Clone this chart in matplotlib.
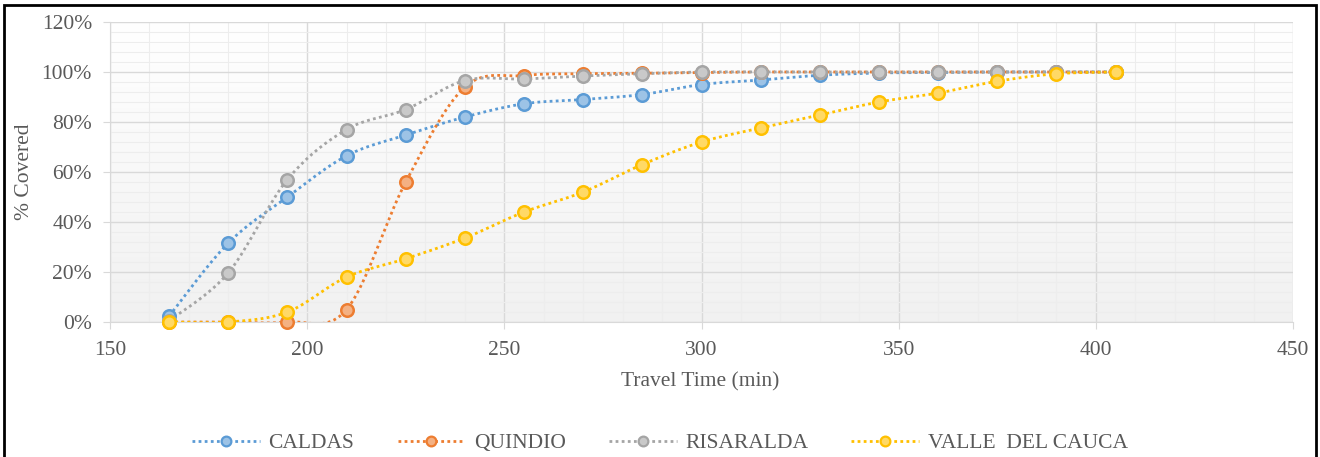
import numpy as np
import matplotlib
matplotlib.use("Agg")
import matplotlib.pyplot as plt
from matplotlib.lines import Line2D
from matplotlib.patches import Rectangle
from matplotlib.ticker import MultipleLocator, FuncFormatter

# Travel time (minutes) and share of population covered (%)
travel_time = [165, 180, 195, 210, 225, 240, 255, 270, 285, 300,
               315, 330, 345, 360, 375, 390, 405]
caldas = [2.4, 31.6, 50.0, 66.5, 74.8, 82.0, 87.3, 89.0, 91.0, 95.0,
          96.8, 98.7, 99.6, 99.8, 100.0, 100.0, 100.0]
quindio = [0.0, 0.0, 0.0, 5.0, 56.0, 94.0, 98.6, 99.3, 99.5, 99.8,
           100.0, 100.0, 100.0, 100.0, 100.0, 100.0, 100.0]
risaralda = [0.5, 19.7, 57.0, 77.0, 85.0, 96.6, 97.2, 98.4, 99.3, 100.0,
             100.0, 100.0, 100.0, 100.0, 100.0, 100.0, 100.0]
valle = [0.0, 0.0, 4.0, 18.0, 25.3, 33.6, 44.0, 52.0, 63.0, 72.0,
         77.6, 82.8, 88.0, 91.6, 96.3, 99.3, 100.0]

series_names = ["CALDAS", "QUINDIO", "RISARALDA", "VALLE  DEL CAUCA"]
edge_colors = ["#5B9BD5", "#ED7D31", "#A5A5A5", "#FFC000"]
face_colors = ["#9DC3E6", "#F4B183", "#C9C9C9", "#FFD966"]

plt.rcParams["font.family"] = ["Liberation Serif", "DejaVu Serif"]
TEXT = "#595959"
W, H = 1320, 457


def smooth(xs, ys, n=20):
    """Cubic Bezier smoothing through every point (spreadsheet style)."""
    xs = np.asarray(xs, float)
    ys = np.asarray(ys, float)
    px = np.concatenate([[xs[0]], xs, [xs[-1]]])
    py = np.concatenate([[ys[0]], ys, [ys[-1]]])
    t = np.linspace(0, 1, n)
    outx, outy = [], []
    for i in range(1, len(px) - 2):
        p0 = np.array([px[i], py[i]])
        p3 = np.array([px[i + 1], py[i + 1]])
        c1 = p0 + (np.array([px[i + 1], py[i + 1]]) - np.array([px[i - 1], py[i - 1]])) / 6
        c2 = p3 - (np.array([px[i + 2], py[i + 2]]) - np.array([px[i], py[i]])) / 6
        b = ((1 - t) ** 3)[:, None] * p0 + (3 * (1 - t) ** 2 * t)[:, None] * c1 \
            + (3 * (1 - t) * t ** 2)[:, None] * c2 + (t ** 3)[:, None] * p3
        outx.append(b[:, 0])
        outy.append(b[:, 1])
    return np.concatenate(outx), np.concatenate(outy)


fig = plt.figure(figsize=(W / 100, H / 100), dpi=100)
ax = fig.add_axes([110 / W, 1 - 322 / H, 1183 / W, 300 / H])

# soft vertical gradient behind the plot
grad = np.linspace(0, 1, 256)[:, None]
ax.imshow(grad, extent=[0, 1, 0, 1], transform=ax.transAxes, aspect="auto",
          cmap=matplotlib.colors.LinearSegmentedColormap.from_list(
              "bg", ["#F1F1F1", "#FFFFFF"]),
          origin="lower", zorder=0)

ax.set_xlim(150, 450)
ax.set_ylim(0, 120)
ax.xaxis.set_major_locator(MultipleLocator(50))
ax.xaxis.set_minor_locator(MultipleLocator(10))
ax.yaxis.set_major_locator(MultipleLocator(20))
ax.yaxis.set_minor_locator(MultipleLocator(4))
ax.yaxis.set_major_formatter(FuncFormatter(lambda v, _: f"{v:.0f}%"))

ax.grid(which="major", color="#D9D9D9", linewidth=1.0, zorder=1)
ax.grid(which="minor", color="#EDEDED", linewidth=0.8, zorder=1)
ax.set_axisbelow(True)

for side in ["top", "right"]:
    ax.spines[side].set_visible(False)
ax.spines["left"].set_color("#D9D9D9")
ax.spines["bottom"].set_color("#D9D9D9")
ax.tick_params(which="major", length=5, color="#D9D9D9", labelcolor=TEXT,
               labelsize=15.5)
ax.tick_params(axis="x", which="major", pad=9)
ax.tick_params(axis="y", which="major", pad=8)
ax.tick_params(which="minor", length=0)

for name, ys, ec, fc in zip(series_names, [caldas, quindio, risaralda, valle],
                            edge_colors, face_colors):
    sx, sy = smooth(travel_time, ys)
    ax.plot(sx, sy, linestyle=(0, (1, 1.2)), color=ec, linewidth=2.0, zorder=3)
    ax.plot(travel_time, ys, linestyle="none", marker="o", markersize=9,
            markerfacecolor=fc, markeredgecolor=ec, markeredgewidth=1.8,
            zorder=4, clip_on=False)

fig.text(700 / W, 1 - 382 / H, "Travel Time (min)", fontsize=15.5,
         color=TEXT, ha="center", va="center")
fig.text(25 / W, 1 - 172 / H, "% Covered", fontsize=15.5, color=TEXT,
         ha="center", va="center", rotation=90)

handles = [Line2D([0], [0], linestyle=(0, (1, 1.2)), color=ec, linewidth=2.0,
                  marker="o", markersize=7, markerfacecolor=fc,
                  markeredgecolor=ec, markeredgewidth=1.6)
           for ec, fc in zip(edge_colors, face_colors)]
leg = fig.legend(handles, series_names, loc="center", ncol=4,
                 bbox_to_anchor=(0.5, 1 - 443 / H), frameon=False,
                 fontsize=15.5, handlelength=3.15, handletextpad=0.4,
                 columnspacing=2.0)
for txt in leg.get_texts():
    txt.set_color(TEXT)

# outer frame around the whole chart
fig.patches.append(Rectangle((4 / W, -0.05), 1312 / W, 1 - 5 / H + 0.05,
                             transform=fig.transFigure, fill=False,
                             edgecolor="black", linewidth=2.0))

fig.savefig("out.png", dpi=100)
